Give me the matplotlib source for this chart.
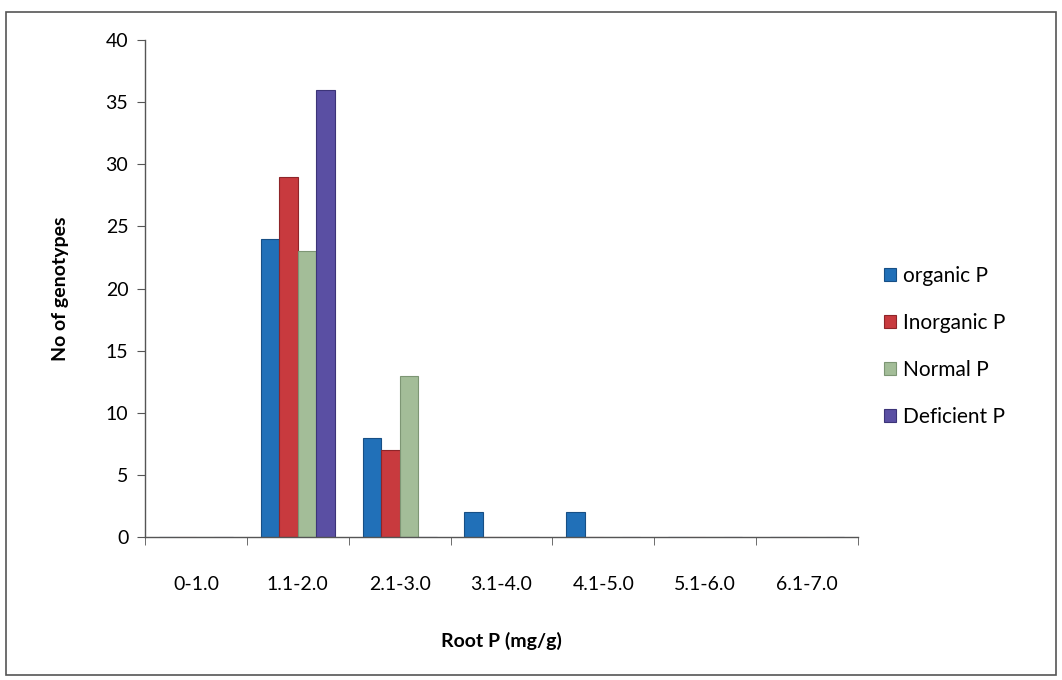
"""
Root P distribution across genotypes, grouped bars
"""

import numpy as np
import matplotlib.pyplot as plt
from matplotlib.patches import Rectangle

plt.rcParams['font.family'] = ['Lato', 'DejaVu Sans']

# Data
categories = ['0-1.0', '1.1-2.0', '2.1-3.0', '3.1-4.0', '4.1-5.0', '5.1-6.0', '6.1-7.0']
organic_p = [0, 24, 8, 2, 2, 0, 0]
inorganic_p = [0, 29, 7, 0, 0, 0, 0]
normal_p = [0, 23, 13, 0, 0, 0, 0]
deficient_p = [0, 36, 0, 0, 0, 0, 0]
series_names = ['organic P', 'Inorganic P', 'Normal P', 'Deficient P']

colors = ['#2170b8', '#c83a3e', '#a3bd98', '#5a4fa3']
edges = ['#174f85', '#8e2529', '#7d9674', '#3c3478']


fig = plt.figure(figsize=(10.62, 6.8), dpi=100)
ax = fig.add_axes([0.1365, 0.2103, 0.6715, 0.7307])

# outer frame of the chart area
fig.patches.append(Rectangle((0.006, 0.008), 0.988, 0.975, transform=fig.transFigure,
                             fill=False, edgecolor='#555555', linewidth=1.2))

x = np.arange(len(categories))
bar_w = 0.182
series = [organic_p, inorganic_p, normal_p, deficient_p]
for i, vals in enumerate(series):
    offs = (i - 1.5) * bar_w
    ax.bar(x + offs, vals, width=bar_w, color=colors[i], edgecolor=edges[i],
           linewidth=0.8, label=series_names[i])

ax.set_xlim(-0.5, len(categories) - 0.5)
ax.set_ylim(0, 40)
ax.set_yticks(np.arange(0, 41, 5))
ax.set_xticks(x)
ax.set_xticklabels(categories)
ax.set_xticks(np.arange(-0.5, len(categories)), minor=True)
ax.tick_params(axis='x', which='major', length=0, pad=28, labelsize=14)
ax.tick_params(axis='x', which='minor', length=6, color='#555555', direction='out')
ax.tick_params(axis='y', length=6, color='#555555', labelsize=14, pad=6)

for side in ['top', 'right']:
    ax.spines[side].set_visible(False)
for side in ['left', 'bottom']:
    ax.spines[side].set_color('#555555')
    ax.spines[side].set_linewidth(1.0)

ax.set_xlabel('Root P (mg/g)', fontsize=14, fontweight='bold', labelpad=28)
ax.set_ylabel('No of genotypes', fontsize=14, fontweight='bold', labelpad=26)

ax.legend(loc='center left', bbox_to_anchor=(1.01, 0.384), frameon=False,
          fontsize=15, handlelength=0.6, handleheight=0.6, handletextpad=0.3,
          labelspacing=1.3)

fig.savefig('out.png', dpi=100)
